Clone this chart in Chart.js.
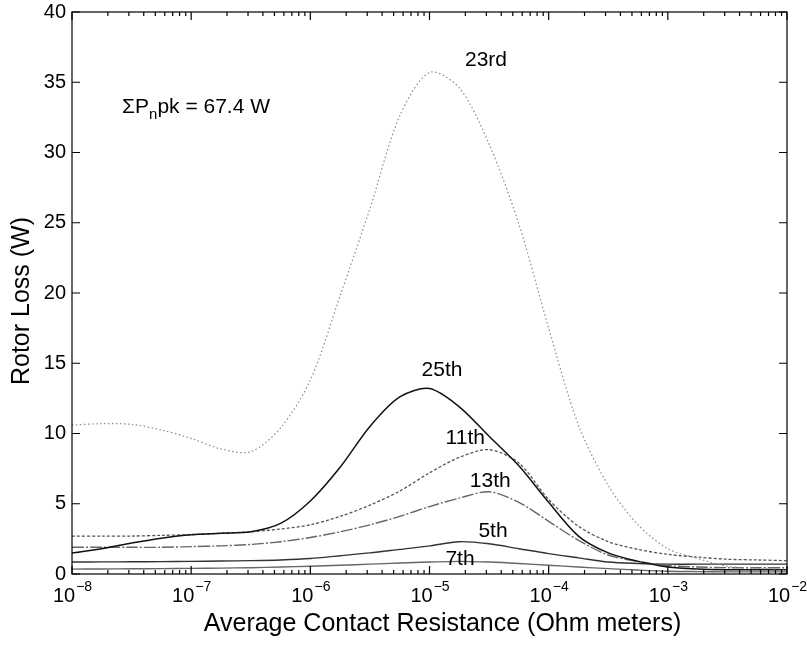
<!DOCTYPE html>
<html>
<head>
<meta charset="utf-8">
<script src="https://cdn.jsdelivr.net/npm/chart.js@4/dist/chart.umd.min.js"></script>
<style>
  html, body { margin: 0; padding: 0; background: #fff; }
  #wrap { width: 807px; height: 646px; }
</style>
</head>
<body>
<div id="wrap"><canvas id="lossChart" width="807" height="646"></canvas></div>
<script>
// contact resistance sample points, as powers of ten (Ohm meters)
const logR = [-8, -7.75, -7.5, -7.25, -7, -6.75, -6.5, -6.25, -6, -5.75, -5.5, -5.25, -5,
              -4.75, -4.5, -4.25, -4, -3.75, -3.5, -3.25, -3, -2.75, -2.5, -2.25, -2];

// rotor loss per harmonic (W)
const loss23 = [10.6, 10.7, 10.65, 10.25, 9.65, 8.9, 8.7, 10.4, 13.8, 19.8, 26.0, 32.6, 35.7,
                34.6, 30.6, 24.9, 17.5, 10.6, 6.3, 3.5, 1.8, 1.1, 0.55, 0.4, 0.35];
const loss25 = [1.5, 1.8, 2.2, 2.55, 2.8, 2.9, 3.0, 3.6, 5.2, 7.6, 10.5, 12.6, 13.2,
                11.9, 9.8, 7.7, 5.1, 2.7, 1.5, 0.9, 0.5, 0.35, 0.3, 0.3, 0.3];
const loss11 = [2.7, 2.7, 2.7, 2.75, 2.8, 2.9, 3.0, 3.2, 3.5, 4.1, 4.9, 5.9, 7.2,
                8.3, 8.85, 7.9, 5.3, 3.4, 2.3, 1.75, 1.4, 1.2, 1.05, 1.0, 0.95];
const loss13 = [1.9, 1.9, 1.9, 1.9, 1.95, 2.0, 2.1, 2.3, 2.6, 3.0, 3.5, 4.1, 4.8,
                5.4, 5.85, 5.1, 3.75, 2.4, 1.35, 0.9, 0.6, 0.5, 0.45, 0.45, 0.45];
const loss5 = [0.85, 0.86, 0.87, 0.88, 0.9, 0.92, 0.95, 1.0, 1.1, 1.3, 1.5, 1.75, 2.0,
               2.3, 2.15, 1.8, 1.45, 1.15, 0.85, 0.75, 0.7, 0.7, 0.7, 0.7, 0.7];
const loss7 = [0.35, 0.36, 0.37, 0.38, 0.4, 0.42, 0.45, 0.5, 0.55, 0.62, 0.7, 0.78, 0.85,
               0.9, 0.85, 0.75, 0.62, 0.5, 0.38, 0.28, 0.2, 0.17, 0.15, 0.15, 0.15];

const yTicks = [0, 5, 10, 15, 20, 25, 30, 35, 40];
const xDecades = [-8, -7, -6, -5, -4, -3, -2];

// curve labels: text and where it sits (log10 R, W)
const curveLabels = [
  { text: '23rd', at: [-4.526, 36.6] },
  { text: '25th', at: [-4.895, 14.5] },
  { text: '11th', at: [-4.70, 9.68] },
  { text: '13th', at: [-4.49, 6.62] },
  { text: '5th',  at: [-4.467, 3.06] },
  { text: '7th',  at: [-4.744, 1.07] }
];

const FONT = '"Liberation Sans", Arial, Helvetica, sans-serif';

function pts(vals) {
  return logR.map((e, i) => ({ x: Math.pow(10, e), y: vals[i] }));
}

function series(label, vals, color, width, dash) {
  return {
    label: label,
    data: pts(vals),
    borderColor: color,
    borderWidth: width,
    borderDash: dash,
    pointRadius: 0,
    fill: false,
    tension: 0.3
  };
}

// box, inward ticks, tick labels, axis titles and text annotations
const axesBox = {
  id: 'axesBox',
  afterDraw(chart) {
    const ctx = chart.ctx;
    const xs = chart.scales.x, ys = chart.scales.y;
    const a = chart.chartArea;
    ctx.save();
    ctx.strokeStyle = '#000';
    ctx.lineWidth = 1.2;
    ctx.strokeRect(a.left, a.top, a.right - a.left, a.bottom - a.top);

    ctx.beginPath();
    yTicks.forEach(v => {
      const py = ys.getPixelForValue(v);
      ctx.moveTo(a.left, py); ctx.lineTo(a.left + 8, py);
      ctx.moveTo(a.right, py); ctx.lineTo(a.right - 8, py);
    });
    xDecades.forEach((d, i) => {
      const px = xs.getPixelForValue(Math.pow(10, d));
      ctx.moveTo(px, a.bottom); ctx.lineTo(px, a.bottom - 8);
      ctx.moveTo(px, a.top); ctx.lineTo(px, a.top + 8);
      if (i < xDecades.length - 1) {
        for (let m = 2; m <= 9; m++) {
          const pm = xs.getPixelForValue(m * Math.pow(10, d));
          ctx.moveTo(pm, a.bottom); ctx.lineTo(pm, a.bottom - 4);
          ctx.moveTo(pm, a.top); ctx.lineTo(pm, a.top + 4);
        }
      }
    });
    ctx.stroke();

    ctx.fillStyle = '#000';
    ctx.font = '20px ' + FONT;
    ctx.textAlign = 'right';
    ctx.textBaseline = 'middle';
    yTicks.forEach(v => ctx.fillText(String(v), a.left - 6, ys.getPixelForValue(v)));

    // 10^n labels under the x axis
    xDecades.forEach(d => {
      const px = xs.getPixelForValue(Math.pow(10, d));
      ctx.font = '20px ' + FONT;
      const wBase = ctx.measureText('10').width;
      ctx.font = '14px ' + FONT;
      const sup = '\u2212' + Math.abs(d);
      const wSup = ctx.measureText(sup).width;
      const left = px - (wBase + wSup) / 2;
      ctx.textAlign = 'left';
      ctx.textBaseline = 'alphabetic';
      ctx.font = '20px ' + FONT;
      ctx.fillText('10', left, a.bottom + 28);
      ctx.font = '14px ' + FONT;
      ctx.fillText(sup, left + wBase + 1, a.bottom + 17);
    });

    ctx.font = '25px ' + FONT;
    ctx.textAlign = 'center';
    ctx.textBaseline = 'alphabetic';
    ctx.fillText('Average Contact Resistance (Ohm meters)', (a.left + a.right) / 2 + 13, 631);
    ctx.textBaseline = 'middle';
    ctx.save();
    ctx.translate(22, 301);
    ctx.rotate(-Math.PI / 2);
    ctx.fillText('Rotor Loss (W)', 0, 0);
    ctx.restore();

    ctx.font = '21px ' + FONT;
    curveLabels.forEach(l => {
      ctx.fillText(l.text, xs.getPixelForValue(Math.pow(10, l.at[0])), ys.getPixelForValue(l.at[1]));
    });

    // sum of peak losses
    let x0 = xs.getPixelForValue(Math.pow(10, -7.58));
    const yb = ys.getPixelForValue(32.8);
    ctx.textAlign = 'left';
    ctx.textBaseline = 'alphabetic';
    ctx.font = '21px ' + FONT;
    ctx.fillText('\u03A3P', x0, yb);
    x0 += ctx.measureText('\u03A3P').width;
    ctx.font = '15px ' + FONT;
    ctx.fillText('n', x0, yb + 6);
    x0 += ctx.measureText('n').width;
    ctx.font = '21px ' + FONT;
    ctx.fillText('pk = 67.4 W', x0, yb);
    ctx.restore();
  }
};

const ctx = document.getElementById('lossChart').getContext('2d');
new Chart(ctx, {
  type: 'line',
  data: {
    datasets: [
      series('23rd', loss23, '#8c8c8c', 1.2, [1.5, 2.5]),
      series('25th', loss25, '#111111', 1.5, []),
      series('11th', loss11, '#555555', 1.3, [3, 2]),
      series('13th', loss13, '#666666', 1.4, [12, 2, 2, 2]),
      series('5th', loss5, '#333333', 1.4, []),
      series('7th', loss7, '#666666', 1.4, [])
    ]
  },
  options: {
    responsive: false,
    animation: false,
    layout: { padding: { left: 72, right: 20, top: 12, bottom: 72 } },
    plugins: { legend: { display: false }, tooltip: { enabled: false } },
    scales: {
      x: { type: 'logarithmic', min: 1e-8, max: 1e-2, display: false },
      y: { type: 'linear', min: 0, max: 40, display: false }
    }
  },
  plugins: [axesBox]
});
</script>
</body>
</html>
